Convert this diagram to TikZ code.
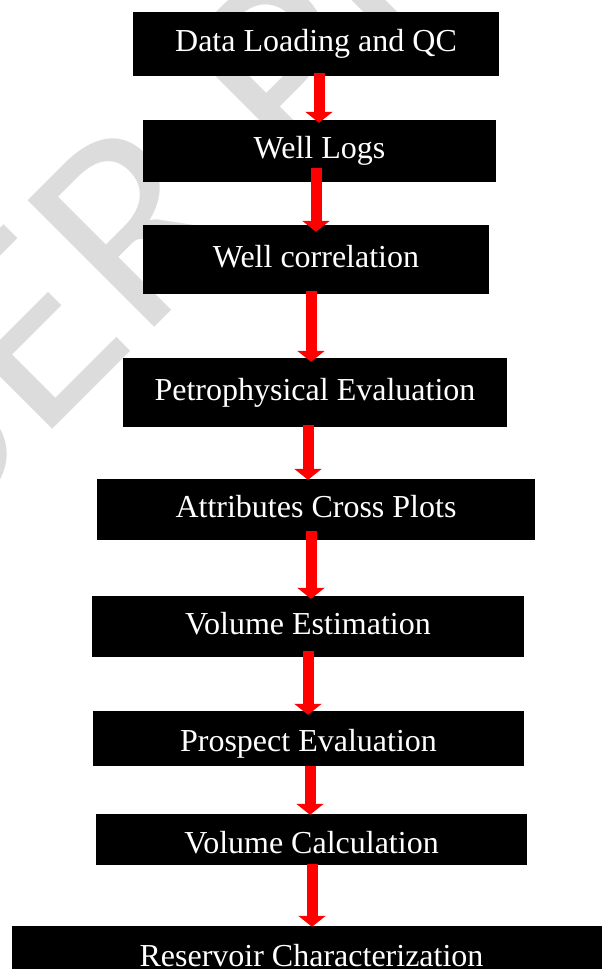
\documentclass[tikz,border=0pt]{standalone}
\usepackage{fontspec}
\setmainfont{Liberation Serif}
\newfontfamily\markfont{Lato}
\usetikzlibrary{arrows.meta,calc}
\definecolor{FlowRed}{HTML}{FF0000}
\definecolor{MarkGray}{HTML}{DCDCDC}

\begin{document}
\begin{tikzpicture}[x=1pt,y=-1pt,
  stepbox/.style={fill=black,text=white,inner sep=0pt,
                  text height=22pt,text depth=7pt,
                  font=\fontsize{32}{38}\selectfont},
  flow/.style={FlowRed,line width=11pt,
               -{Triangle[width=27pt,length=11pt]}}]
  \useasboundingbox (0,0) rectangle (602,969);
  % watermark behind everything
  \node[MarkGray,rotate=45,anchor=base west,inner sep=0pt,
        font=\markfont\fontsize{250}{250}\selectfont] (mark) at (-190,672) {USER PREVIEW};
  % the steps
  \node[stepbox,minimum width=366pt,minimum height=64pt] (load)  at (316,44)    {Data Loading and QC};
  \node[stepbox,minimum width=353pt,minimum height=62pt] (logs)  at (319.5,151) {Well Logs};
  \node[stepbox,minimum width=346pt,minimum height=69pt] (corr)  at (316,259.5) {Well correlation};
  \node[stepbox,minimum width=384pt,minimum height=69pt] (petro) at (315,392.5) {Petrophysical Evaluation};
  \node[stepbox,minimum width=438pt,minimum height=61pt] (attr)  at (316,509.5) {Attributes Cross Plots};
  \node[stepbox,minimum width=432pt,minimum height=61pt] (est)   at (308,626.5) {Volume Estimation};
  \node[stepbox,minimum width=431pt,minimum height=55pt,
        text height=25pt,text depth=0pt] (prosp) at (308.5,738.5) {Prospect Evaluation};
  \node[stepbox,minimum width=431pt,minimum height=51pt,
        text height=27pt,text depth=0pt] (calc)  at (311.5,839.5) {Volume Calculation};
  \node[stepbox,minimum width=599pt,minimum height=65pt] (res)   at (311.5,958.5) {Reservoir Characterization};
  % red arrows: from/to/x offset/start inset/end inset
  \foreach \a/\b/\dx/\s/\e in {load/logs/3/3/3,logs/corr/-3.5/14/7,corr/petro/-5/3/4,
      petro/attr/-7/2/1,attr/est/-5/9/3,est/prosp/0/6/4,prosp/calc/1.5/0/1,calc/res/0.5/1/1}
    \draw[flow] ($(\a.south)+(\dx,-\s)$) -- ($(\a.south |- \b.north)+(\dx,\e)$);
\end{tikzpicture}
\end{document}
